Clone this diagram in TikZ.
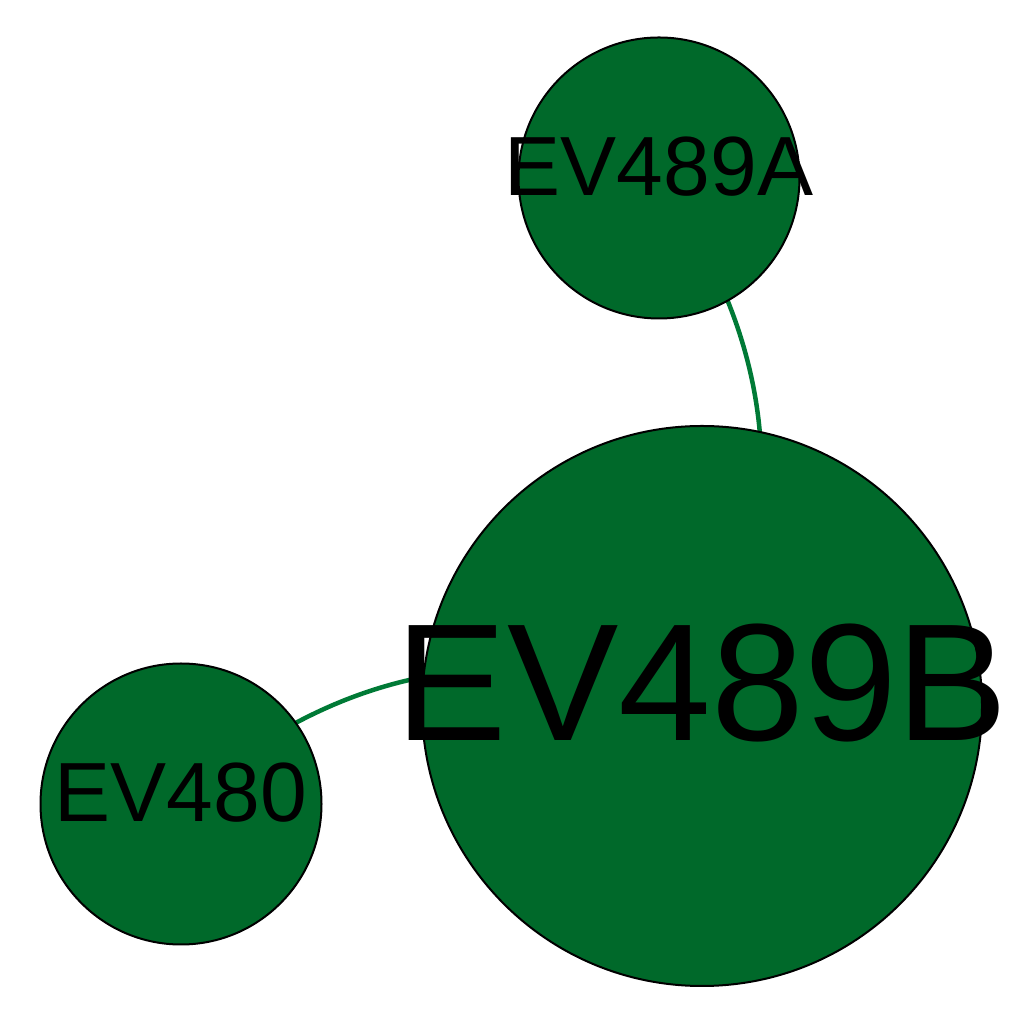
\documentclass[tikz,border=0pt]{standalone}
\usepackage{fontspec}
\setmainfont{Liberation Sans}
\usetikzlibrary{shapes,backgrounds}
\definecolor{nodegreen}{HTML}{00692A}
\definecolor{edgegreen}{HTML}{007A36}
\newcommand{\vlabel}[2]{\fontsize{#1}{#1}\selectfont\raisebox{0.29em}{\makebox[0pt]{#2}}}

\begin{document}
\begin{tikzpicture}[x=1pt,y=1pt,bend angle=30]
  \tikzstyle{vertex}=[circle,draw=black,line width=2pt,fill=nodegreen,inner sep=0pt]
  \tikzstyle{link}=[draw=edgegreen,line width=4.5pt]
  \useasboundingbox (0,0) rectangle (1024,1024);

    \node [vertex,minimum size=560pt] (ev489b) at (702,318) {\vlabel{167}{EV489B}};
    \node [vertex,minimum size=281pt] (ev489a) at (659,846) {\vlabel{84}{EV489A}};
    \node [vertex,minimum size=281pt] (ev480)  at (181,220) {\vlabel{84}{EV480}};
    \begin{scope}[on background layer] %edges
    \draw [link] (ev489a.center) to [bend left=31] (ev489b.center);
    \draw [link] (ev480.center) to [bend left=31] (ev489b.center);
    \end{scope}
\end{tikzpicture}
\end{document}
